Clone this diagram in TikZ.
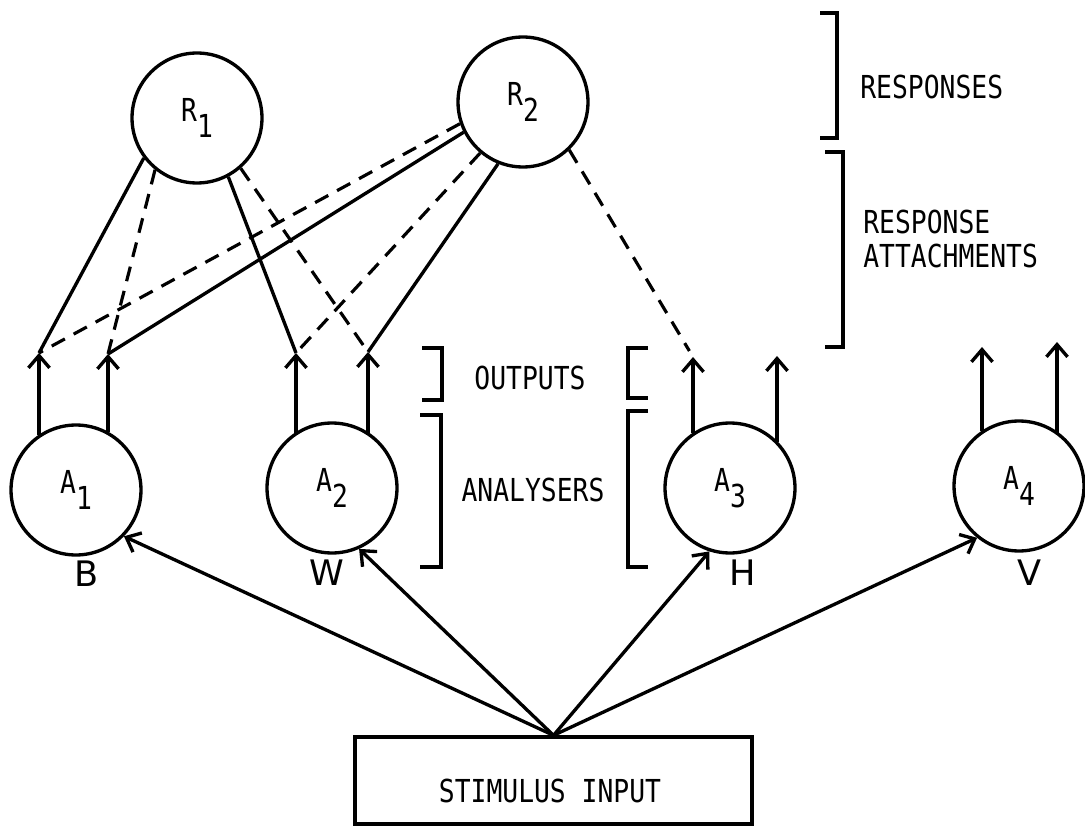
\documentclass[tikz,border=0pt]{standalone}
\usepackage{fontspec}
\setmainfont{DejaVu Sans Mono}
\newfontfamily\handfont{DejaVu Sans}
\usetikzlibrary{arrows.meta}
\newcommand{\tall}[1]{\scalebox{1}[1.2]{#1}}
\newcommand{\sbs}[2]{\tall{#1\raisebox{-0.5em}{#2}}}
\begin{document}
\begin{tikzpicture}[x=0.02cm,y=-0.02cm,
  ln/.style={line width=1.9pt},
  dsh/.style={line width=1.8pt, dash pattern=on 0.3cm off 0.2cm},
  barb/.style={-{Straight Barb[length=7pt,width=12pt,line width=1.9pt]}},
  circ/.style={circle, draw, line width=1.9pt, minimum size=2.6cm, inner sep=0pt, font=\fontsize{15}{18}\selectfont},
  lbl/.style={font=\fontsize{15}{18}\selectfont, inner sep=0pt},
  hand/.style={font=\handfont\fontsize{20}{24}\selectfont, inner sep=0pt},
  brk/.style={line width=1.9pt}
]
\useasboundingbox (0,0) rectangle (1085,827);

% circles
\node[circ] (R1) at (197,118) {\sbs{R}{1}};
\node[circ] (R2) at (523,102) {\sbs{R}{2}};
\node[circ] (A1) at (76,490) {\sbs{A}{1}};
\node[circ] (A2) at (332,488) {\sbs{A}{2}};
\node[circ] (A3) at (730,488) {\sbs{A}{3}};
\node[circ] (A4) at (1019,486) {\sbs{A}{4}};

% output tips
\coordinate (t1a) at (39,353);
\coordinate (t1b) at (108,354);
\coordinate (t2a) at (296,353);
\coordinate (t2b) at (368,352);
\coordinate (t3a) at (693,357);
\coordinate (t3b) at (777,356);
\coordinate (t4a) at (982,347);
\coordinate (t4b) at (1057,342);

% outputs
\draw[ln,barb] (t1a |- A1.125) -- (t1a);
\draw[ln,barb] (t1b |- A1.60) -- (t1b);
\draw[ln,barb] (t2a |- A2.124) -- (t2a);
\draw[ln,barb] (t2b |- A2.56) -- (t2b);
\draw[ln,barb] (t3a |- A3.125) -- (t3a);
\draw[ln,barb] (t3b |- A3.44) -- (t3b);
\draw[ln,barb] (t4a |- A4.124) -- (t4a);
\draw[ln,barb] (t4b |- A4.53) -- (t4b);

% response attachments
\draw[ln] (R1.217) -- (t1a);
\draw[dsh] (R1.231) -- (t1b);
\draw[ln] (R1.298) -- (t2a);
\draw[dsh] (R1.311) -- (t2b);
\draw[dsh] (R2.199) -- (t1a);
\draw[ln] (R2.207) -- (t1b);
\draw[dsh] (R2.230) -- (t2a);
\draw[ln] (R2.248) -- (t2b);
\draw[dsh, shorten >=4pt] (R2.314) -- (t3a);

% stimulus input
\node[draw, ln, minimum width=7.94cm, minimum height=1.74cm, inner sep=0pt] (box) at (553.5,780.5) {};
\node[lbl] (boxtext) at (550,791) {\tall{STIMULUS INPUT}};
\draw[ln,barb] (box.north) -- (A1.-44);
\draw[ln,barb] (box.north) -- (A2.-66);
\draw[ln,barb] (box.north) -- (A3.-108);
\draw[ln,barb] (box.north) -- (A4.-129);

% handwritten labels
\node[hand] (lB) at (87,574) {B};
\node[hand] (lW) at (327,573) {W};
\node[hand] (lH) at (743,573) {H};
\node[hand] (lV) at (1030,573) {V};

% brackets
\draw[brk] (820,13) -- (837,13) -- (837,138) -- (820,138);
\draw[brk] (825,152) -- (843,152) -- (843,347) -- (825,347);
\draw[brk] (422,348) -- (442,348) -- (442,400) -- (422,400);
\draw[brk] (420,415) -- (441,415) -- (441,567) -- (420,567);
\draw[brk] (648,348) -- (628,348) -- (628,398) -- (648,398);
\draw[brk] (648,411) -- (628,411) -- (628,567) -- (648,567);

% bracket texts
\node[lbl, anchor=west] (tresp) at (860,87) {\tall{RESPONSES}};
\node[lbl, anchor=west] (tatt1) at (863,222) {\tall{RESPONSE}};
\node[lbl, anchor=west] (tatt2) at (863,256) {\tall{ATTACHMENTS}};
\node[lbl] (tout) at (530,378) {\tall{OUTPUTS}};
\node[lbl] (tana) at (533,490) {\tall{ANALYSERS}};
\end{tikzpicture}
\end{document}
